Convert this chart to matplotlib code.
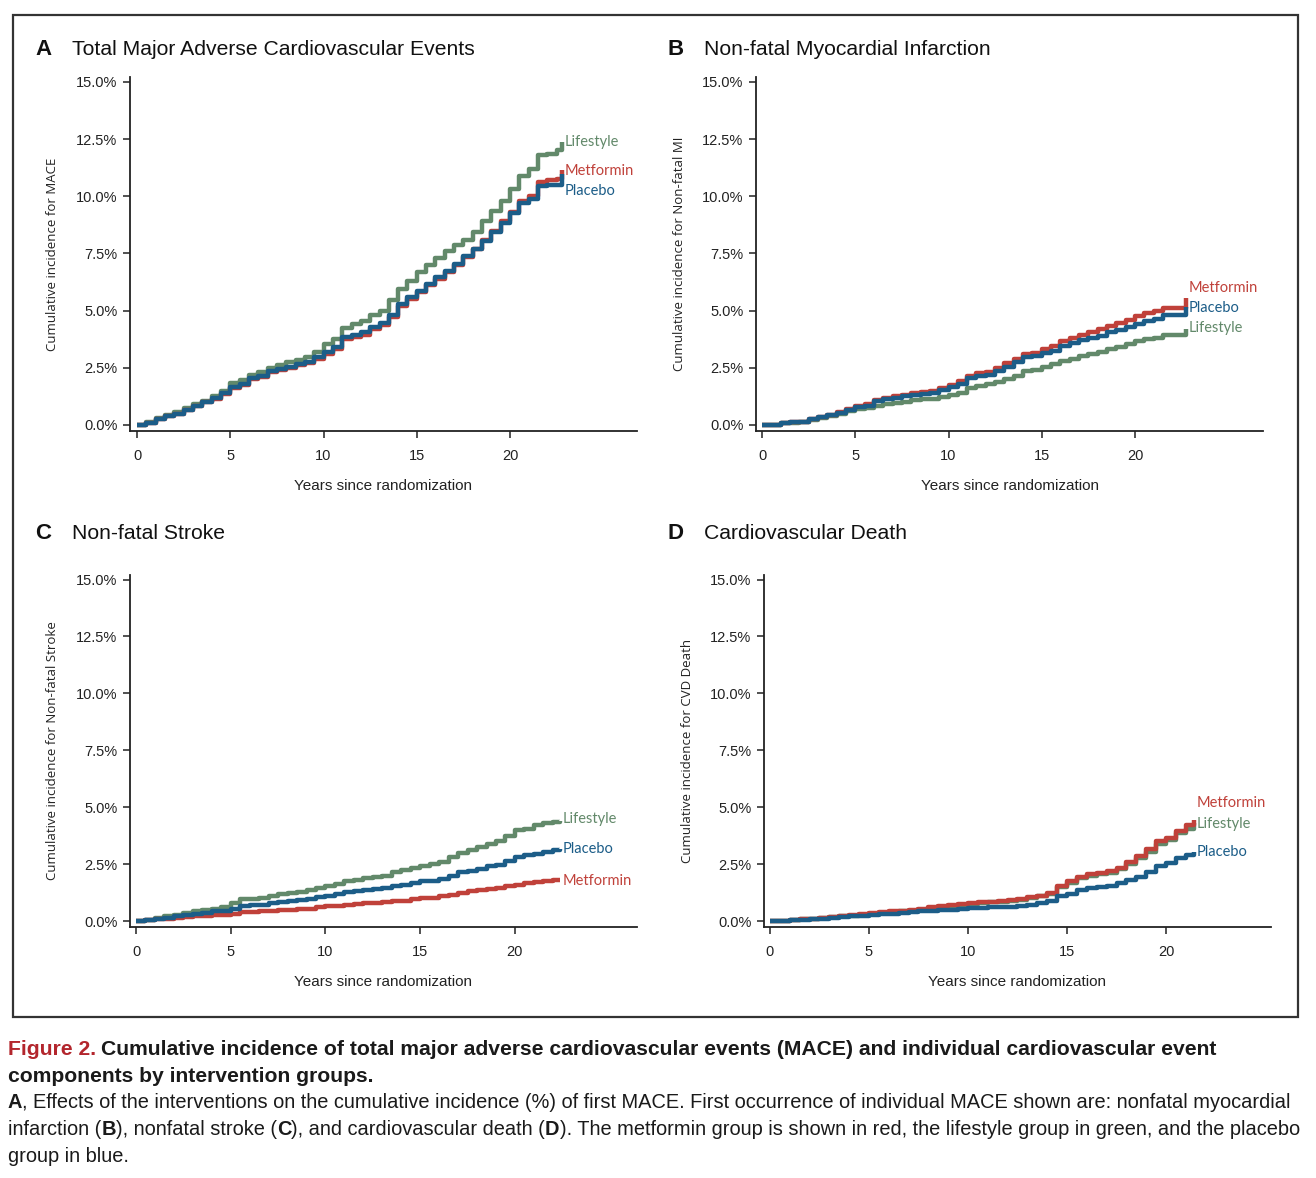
import numpy as np
import matplotlib
matplotlib.use("Agg")
import matplotlib.pyplot as plt
from matplotlib.patches import Rectangle
from matplotlib.ticker import FuncFormatter

# colours of the three intervention groups
GREEN = "#62896a"
RED = "#c0413a"
BLUE = "#1c5d88"

NARROW = ["Liberation Sans Narrow", "Liberation Sans", "DejaVu Sans"]

# ---- data: cumulative incidence (%), half-year steps ----
t_ab = list(np.arange(0, 23, 0.5))  # 0 .. 22.5

# A: total MACE
a_time = t_ab + [22.8]
a_life = [0, 0.12, 0.3, 0.42, 0.55, 0.72, 0.9, 1.05, 1.25, 1.5, 1.85, 1.95, 2.2, 2.3, 2.5, 2.6,
          2.75, 2.85, 2.95, 3.2, 3.55, 3.75, 4.25, 4.4, 4.55, 4.8, 5.0, 5.45, 5.95, 6.3, 6.7, 7.0,
          7.3, 7.6, 7.85, 8.1, 8.45, 8.9, 9.35, 9.8, 10.3, 10.9, 11.2, 11.8, 11.85, 12.0, 12.35]
a_met = [0, 0.1, 0.25, 0.38, 0.5, 0.65, 0.85, 1.0, 1.15, 1.35, 1.6, 1.75, 2.0, 2.1, 2.3, 2.4,
         2.5, 2.6, 2.7, 2.9, 3.1, 3.3, 3.75, 3.85, 3.95, 4.2, 4.35, 4.7, 5.2, 5.5, 5.8, 6.1,
         6.4, 6.7, 7.0, 7.35, 7.7, 8.1, 8.5, 8.9, 9.3, 9.8, 10.0, 10.6, 10.7, 10.75, 11.15]
a_pla = [0, 0.1, 0.25, 0.4, 0.5, 0.65, 0.85, 1.0, 1.2, 1.4, 1.65, 1.8, 2.05, 2.15, 2.35, 2.45,
         2.55, 2.65, 2.75, 2.95, 3.2, 3.4, 3.85, 3.95, 4.05, 4.3, 4.45, 4.8, 5.3, 5.6, 5.85, 6.15,
         6.45, 6.75, 7.05, 7.4, 7.7, 8.05, 8.45, 8.85, 9.25, 9.7, 9.9, 10.45, 10.5, 10.5, 10.95]

# B: non-fatal MI
b_time = t_ab + [22.75]
b_met = [0, 0.02, 0.1, 0.12, 0.15, 0.25, 0.35, 0.45, 0.55, 0.7, 0.85, 0.9, 1.1, 1.2, 1.27, 1.33,
         1.4, 1.45, 1.5, 1.62, 1.75, 1.9, 2.15, 2.25, 2.32, 2.5, 2.7, 2.9, 3.12, 3.15, 3.3, 3.45,
         3.65, 3.8, 3.95, 4.07, 4.2, 4.33, 4.45, 4.6, 4.75, 4.9, 5.0, 5.1, 5.1, 5.1, 5.55]
b_pla = [0, 0.02, 0.1, 0.12, 0.15, 0.25, 0.33, 0.42, 0.52, 0.65, 0.8, 0.85, 1.05, 1.12, 1.2, 1.25,
         1.3, 1.35, 1.4, 1.52, 1.65, 1.8, 2.05, 2.12, 2.2, 2.35, 2.55, 2.75, 2.95, 3.0, 3.15, 3.25,
         3.45, 3.6, 3.7, 3.82, 3.9, 4.05, 4.15, 4.3, 4.4, 4.55, 4.65, 4.8, 4.8, 4.8, 5.15]
b_life = [0, 0.02, 0.08, 0.1, 0.15, 0.22, 0.3, 0.38, 0.48, 0.6, 0.7, 0.75, 0.85, 0.92, 0.98, 1.02,
          1.08, 1.12, 1.15, 1.22, 1.3, 1.4, 1.6, 1.72, 1.78, 1.88, 2.0, 2.15, 2.35, 2.4, 2.55, 2.65,
          2.78, 2.9, 3.0, 3.1, 3.2, 3.32, 3.42, 3.55, 3.65, 3.75, 3.82, 3.95, 3.95, 3.95, 4.2]

# C: non-fatal stroke
c_time = list(np.arange(0, 22.5, 0.5)) + [22.4]
c_life = [0, 0.05, 0.12, 0.2, 0.27, 0.35, 0.45, 0.5, 0.55, 0.6, 0.8, 0.95, 0.98, 1.0, 1.12, 1.2,
          1.25, 1.28, 1.35, 1.45, 1.52, 1.62, 1.75, 1.82, 1.9, 1.95, 2.0, 2.15, 2.25, 2.32, 2.42,
          2.5, 2.6, 2.8, 3.0, 3.1, 3.25, 3.4, 3.5, 3.75, 4.0, 4.05, 4.2, 4.3, 4.35, 4.4]
c_pla = [0, 0.04, 0.1, 0.15, 0.2, 0.27, 0.32, 0.37, 0.42, 0.45, 0.55, 0.65, 0.7, 0.72, 0.8, 0.85,
         0.88, 0.92, 0.98, 1.05, 1.1, 1.18, 1.27, 1.32, 1.37, 1.42, 1.45, 1.55, 1.6, 1.68, 1.75,
         1.78, 1.85, 2.0, 2.15, 2.2, 2.3, 2.4, 2.48, 2.65, 2.8, 2.88, 2.95, 3.05, 3.1, 3.15]
c_met = [0, 0.03, 0.07, 0.1, 0.14, 0.18, 0.22, 0.24, 0.26, 0.28, 0.33, 0.38, 0.4, 0.42, 0.45, 0.48,
         0.5, 0.52, 0.55, 0.6, 0.65, 0.68, 0.72, 0.75, 0.78, 0.8, 0.82, 0.87, 0.9, 0.95, 1.0,
         1.03, 1.08, 1.15, 1.25, 1.3, 1.35, 1.4, 1.45, 1.55, 1.6, 1.67, 1.7, 1.75, 1.8, 1.8]

# D: cardiovascular death
d_time = list(np.arange(0, 21.5, 0.5)) + [21.4]
d_met = [0, 0.02, 0.06, 0.08, 0.1, 0.13, 0.18, 0.21, 0.25, 0.3, 0.35, 0.38, 0.42, 0.45, 0.5, 0.55,
         0.62, 0.66, 0.7, 0.76, 0.8, 0.82, 0.85, 0.88, 0.92, 0.96, 1.05, 1.12, 1.25, 1.55, 1.75,
         1.95, 2.05, 2.12, 2.2, 2.35, 2.6, 2.85, 3.15, 3.5, 3.65, 3.95, 4.2, 4.45]
d_life = [0, 0.02, 0.05, 0.07, 0.09, 0.12, 0.16, 0.2, 0.23, 0.27, 0.32, 0.35, 0.38, 0.42, 0.46, 0.5,
          0.56, 0.6, 0.65, 0.7, 0.74, 0.78, 0.82, 0.85, 0.88, 0.92, 1.0, 1.08, 1.2, 1.48, 1.68,
          1.88, 2.0, 2.05, 2.12, 2.28, 2.5, 2.75, 3.05, 3.4, 3.55, 3.85, 4.05, 4.3]
d_pla = [0, 0.01, 0.04, 0.06, 0.08, 0.1, 0.14, 0.17, 0.2, 0.24, 0.28, 0.3, 0.32, 0.35, 0.38, 0.42,
         0.46, 0.48, 0.5, 0.55, 0.58, 0.59, 0.6, 0.61, 0.62, 0.65, 0.72, 0.78, 0.88, 1.08, 1.2,
         1.35, 1.45, 1.5, 1.55, 1.65, 1.8, 1.95, 2.15, 2.4, 2.55, 2.75, 2.9, 3.05]

# label text positions (data coords) for the group names at the curve ends
panels = [
    dict(letter="A", title="Total Major Adverse Cardiovascular Events",
         ylabel="Cumulative incidence for MACE", time=a_time,
         series=[("Lifestyle", GREEN, a_life), ("Metformin", RED, a_met), ("Placebo", BLUE, a_pla)],
         labels=[("Lifestyle", GREEN, 12.35), ("Metformin", RED, 11.1), ("Placebo", BLUE, 10.25)],
         pos=[0.0988, 0.6344, 0.3852, 0.3000], xlim=(-0.375, 26.8), ylx=0.045),
    dict(letter="B", title="Non-fatal Myocardial Infarction",
         ylabel="Cumulative incidence for Non-fatal MI", time=b_time,
         series=[("Lifestyle", GREEN, b_life), ("Metformin", RED, b_met), ("Placebo", BLUE, b_pla)],
         labels=[("Metformin", RED, 6.0), ("Placebo", BLUE, 5.12), ("Lifestyle", GREEN, 4.22)],
         pos=[0.5745, 0.6344, 0.3852, 0.3000], xlim=(-0.32, 26.86), ylx=0.521),
    dict(letter="C", title="Non-fatal Stroke",
         ylabel="Cumulative incidence for Non-fatal Stroke", time=c_time,
         series=[("Lifestyle", GREEN, c_life), ("Metformin", RED, c_met), ("Placebo", BLUE, c_pla)],
         labels=[("Lifestyle", GREEN, 4.48), ("Placebo", BLUE, 3.18), ("Metformin", RED, 1.78)],
         pos=[0.0988, 0.2133, 0.3852, 0.2986], xlim=(-0.317, 26.44), ylx=0.045),
    dict(letter="D", title="Cardiovascular Death",
         ylabel="Cumulative incidence for CVD Death", time=d_time,
         series=[("Lifestyle", GREEN, d_life), ("Metformin", RED, d_met), ("Placebo", BLUE, d_pla)],
         labels=[("Metformin", RED, 5.18), ("Lifestyle", GREEN, 4.28), ("Placebo", BLUE, 3.03)],
         pos=[0.5805, 0.2133, 0.3853, 0.2986], xlim=(-0.303, 25.3), ylx=0.527),
]

fig = plt.figure(figsize=(13.16, 11.78), dpi=100)
fig.patch.set_facecolor("white")

# outer frame around the four panels
fig.patches.append(Rectangle((0.0099, 0.1367), 0.9764, 0.8506, transform=fig.transFigure,
                             fill=False, edgecolor="#333333", linewidth=1.6))

pct = FuncFormatter(lambda v, p: f"{v:.1f}%")

for p in panels:
    ax = fig.add_axes(p["pos"])
    for name, col, vals in p["series"]:
        ax.step(p["time"], vals, where="post", color=col, lw=3.2, solid_capstyle="butt")
    tend = p["time"][-1]
    for name, col, yv in p["labels"]:
        ax.text(tend + 0.12, yv, name, color=col, fontsize=10.5, family="Lato",
                va="center", ha="left")
    ax.set_xlim(*p["xlim"])
    ax.set_ylim(-0.25, 15.2)
    ax.set_xticks([0, 5, 10, 15, 20])
    ax.set_yticks(np.arange(0, 15.1, 2.5))
    ax.yaxis.set_major_formatter(pct)
    for s in ["top", "right"]:
        ax.spines[s].set_visible(False)
    for s in ["left", "bottom"]:
        ax.spines[s].set_color("#222222")
        ax.spines[s].set_linewidth(1.3)
    ax.tick_params(length=5, width=1.1, color="#222222", labelsize=10.5)
    ax.tick_params(axis="x", pad=8)
    ax.tick_params(axis="y", pad=4)
    for lab in ax.get_xticklabels() + ax.get_yticklabels():
        lab.set_family(NARROW)
        lab.set_color("#222222")
    ax.set_xlabel("Years since randomization", fontsize=11, family=NARROW,
                  color="#222222", labelpad=12)
    ax.set_ylabel(p["ylabel"], fontsize=9.5, family="Open Sans", color="#222222")
    ax.yaxis.set_label_coords(p["ylx"] / p["pos"][2] - p["pos"][0] / p["pos"][2], 0.5)
    # panel letter and title
    top = p["pos"][1] + p["pos"][3]
    fx = 0.027 if p["letter"] in "AC" else 0.507
    ty = top + 0.0235 if p["letter"] in "AB" else top + 0.0355
    fig.text(fx, ty, p["letter"], fontsize=16, fontweight="bold", family="Liberation Sans",
             va="center", ha="left", color="#111111")
    fig.text(fx + 0.028, ty, p["title"], fontsize=15.2, family=NARROW, va="center",
             ha="left", color="#111111")

# caption with mixed bold/normal runs
renderer = fig.canvas.get_renderer()


def draw_runs(x_px, y_px, runs, size):
    x = x_px / fig.bbox.width
    y = 1 - y_px / fig.bbox.height
    for s, weight, col, gap in runs:
        t = fig.text(x, y, s, fontsize=size, fontweight=weight, color=col, family=NARROW,
                     va="baseline", ha="left")
        bb = t.get_window_extent(renderer)
        x += (bb.width + gap) / fig.bbox.width


K = "#1a1a1a"
BSIZE = 15.2
NSIZE = 14.4
draw_runs(8, 1055, [("Figure 2.", "bold", "#b3262d", 5),
                    ("Cumulative incidence of total major adverse cardiovascular events (MACE) "
                     "and individual cardiovascular event", "bold", K, 0)], BSIZE)
draw_runs(8, 1082, [("components by intervention groups.", "bold", K, 0)], BSIZE)
draw_runs(8, 1108, [("A", "bold", K, 0),
                    (", Effects of the interventions on the cumulative incidence (%) of first MACE. "
                     "First occurrence of individual MACE shown are: nonfatal myocardial",
                     "normal", K, 0)], NSIZE)
draw_runs(8, 1135, [("infarction (", "normal", K, 0), ("B", "bold", K, 0),
                    ("), nonfatal stroke (", "normal", K, 0), ("C", "bold", K, 0),
                    ("), and cardiovascular death (", "normal", K, 0), ("D", "bold", K, 0),
                    ("). The metformin group is shown in red, the lifestyle group in green, "
                     "and the placebo", "normal", K, 0)], NSIZE)
draw_runs(8, 1162, [("group in blue.", "normal", K, 0)], NSIZE)

fig.savefig("out.png", dpi=100, facecolor="white")
